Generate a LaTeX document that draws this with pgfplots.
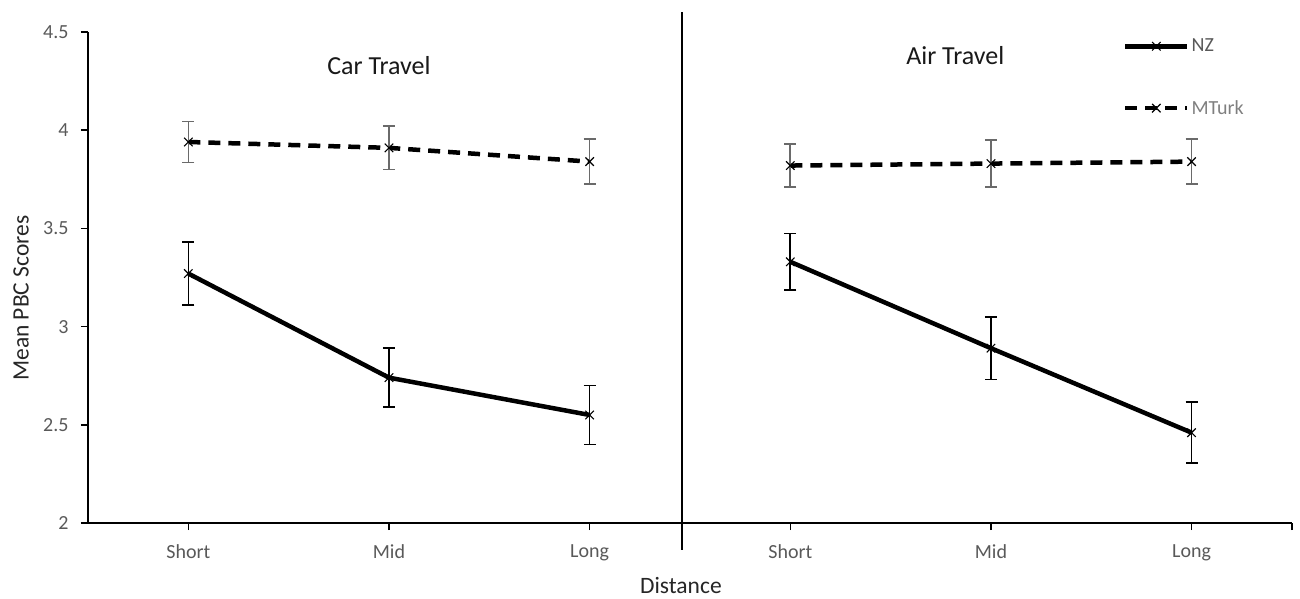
\documentclass[border=0pt]{standalone}
\usepackage{fontspec}
\setmainfont{Carlito}
\usepackage{pgfplots}
\pgfplotsset{compat=1.18}
\definecolor{tickgray}{HTML}{595959}
\definecolor{leggray}{HTML}{7F7F7F}
\definecolor{errgray}{HTML}{6A6A6A}
\begin{document}
\begin{tikzpicture}
\useasboundingbox (-88pt,-76pt) rectangle (1212pt,523pt);
\begin{axis}[
  at={(0,0)}, anchor=south west,
  scale only axis, width=1204pt, height=491pt,
  xmin=-0.5, xmax=5.5, ymin=2, ymax=4.5,
  axis lines*=left,
  axis line style={line width=1.5pt, black},
  xtick={0,1,2,3,4,5},
  xticklabels={Short,Mid,Long,Short,Mid,Long},
  extra x ticks={5.5}, extra x tick labels={},
  ytick={2,2.5,3,3.5,4,4.5},
  tick align=outside, major tick length=7pt,
  tick style={line width=1.5pt, black},
  ticklabel style={font=\fontsize{20}{24}\selectfont, text=tickgray},
  yticklabel style={xshift=-9pt},
  xticklabel style={yshift=-11pt},
  /pgf/number format/assume math mode=true,
  clip=false,
  xlabel={Distance},
  ylabel={Mean PBC Scores},
  xlabel style={at={(axis description cs:0.4925,-0.128)}, anchor=center, font=\fontsize{23.5}{28}\selectfont, text=black!85},
  ylabel style={at={(axis description cs:-0.0556,0.458)}, anchor=center, rotate=0, font=\fontsize{23.5}{28}\selectfont, text=black!85},
  legend style={draw=none, fill=none, at={(axis description cs:0.8596,0.99)}, anchor=north west,
    font=\fontsize{20}{24}\selectfont, row sep=43pt, cells={anchor=west}, inner sep=0pt},
  legend image code/.code={
    \draw[mark repeat=2,mark phase=2,#1] plot coordinates {(0pt,0pt) (31pt,0pt) (62pt,0pt)};
  },
  nz/.style={black, line width=4.5pt, solid, mark=x, mark size=6pt,
    mark options={line width=1.1pt, solid, black},
    error bars/y dir=both, error bars/y explicit,
    error bars/error bar style={line width=1.6pt, black, solid},
    error bars/error mark options={rotate=90, mark size=6pt, line width=1.6pt, black, solid}},
  mt/.style={black, line width=4.5pt, dash pattern=on 12pt off 8pt, mark=x, mark size=6pt,
    mark options={line width=1.1pt, solid, black},
    error bars/y dir=both, error bars/y explicit,
    error bars/error bar style={line width=1.6pt, errgray, solid},
    error bars/error mark options={rotate=90, mark size=6pt, line width=1.6pt, errgray, solid}},
]
% Car travel
\addplot[nz] coordinates {(0,3.27) +- (0,0.16) (1,2.74) +- (0,0.15) (2,2.55) +- (0,0.15)};
\addlegendentry{\textcolor{tickgray}{NZ}}
\addplot[mt] coordinates {(0,3.94) +- (0,0.105) (1,3.91) +- (0,0.11) (2,3.84) +- (0,0.115)};
\addlegendentry{\textcolor{leggray}{MTurk}}
% Air travel
\addplot[nz, forget plot] coordinates {(3,3.33) +- (0,0.145) (4,2.89) +- (0,0.16) (5,2.46) +- (0,0.155)};
\addplot[mt, forget plot] coordinates {(3,3.82) +- (0,0.11) (4,3.83) +- (0,0.12) (5,3.84) +- (0,0.115)};
% divider
\draw[line width=1.5pt, black] (axis cs:2.46,1.863) -- (axis cs:2.46,4.60);
\node[font=\fontsize{26}{31}\selectfont, text=black!90] at (axis cs:0.95,4.329) {Car Travel};
\node[font=\fontsize{26}{31}\selectfont, text=black!90] at (axis cs:3.822,4.378) {Air Travel};
\end{axis}
\end{tikzpicture}
\end{document}
